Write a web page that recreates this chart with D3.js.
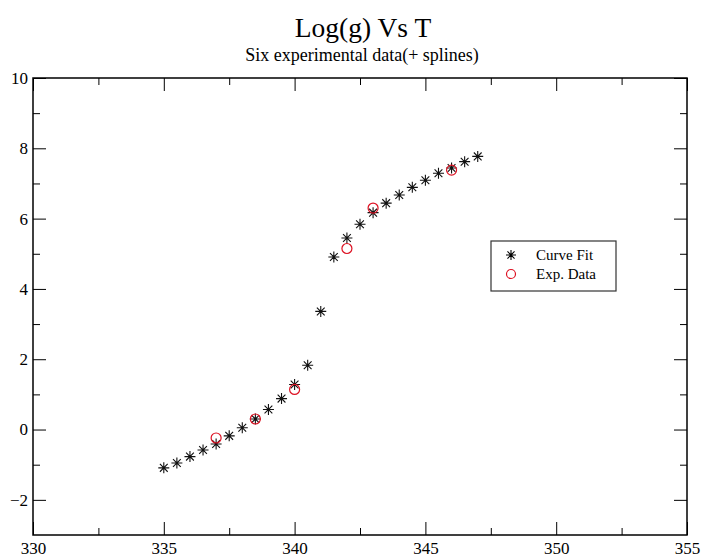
<!DOCTYPE html>
<html><head><meta charset="utf-8">
<script src="https://cdn.jsdelivr.net/npm/d3@7"></script>
<style>body{margin:0;background:#fff}svg{display:block}text{font-family:"Liberation Serif","Times New Roman",serif;fill:#000}</style>
</head><body><svg id="c" width="705" height="559"></svg>
<script>
const fitT = [335,335.5,336,336.5,337,337.5,338,338.5,339,339.5,340,340.5,341,341.5,342,342.5,343,343.5,344,344.5,345,345.5,346,346.5,347];
const fitLogG = [-1.09,-0.95,-0.77,-0.58,-0.41,-0.18,0.05,0.30,0.57,0.88,1.28,1.83,3.36,4.91,5.45,5.84,6.17,6.44,6.67,6.89,7.09,7.29,7.44,7.62,7.77];
const expT = [337,338.5,340,342,343,346];
const expLogG = [-0.24,0.30,1.14,5.15,6.30,7.38];
const xTicks = [330,335,340,345,350,355];
const yTicks = [-2,0,2,4,6,8,10];
const xMinor = [332.5,337.5,342.5,347.5,352.5];
const yMinor = [-1,1,3,5,7,9];
const title = "Log(g) Vs T";
const subtitle = "Six experimental data(+ splines)";
const legendLabels = ["Curve Fit","Exp. Data"];

const svg = d3.select("#c");
const L=33,R=687,T=78,B=535;
const x = d3.scaleLinear().domain([330,355]).range([L,R]);
const y = d3.scaleLinear().domain([-3,10]).range([B,T]);

svg.append("text").attr("x",363).attr("y",37).attr("text-anchor","middle").attr("font-size",27.5).text(title);
svg.append("text").attr("x",362).attr("y",61).attr("text-anchor","middle").attr("font-size",18).text(subtitle);

const g = svg.append("g");
const major=13, minor=7;
function axisStyle(sel){sel.select(".domain").remove();sel.selectAll("line").attr("stroke","#000").attr("stroke-width",1);sel.selectAll("text").attr("font-size",17).attr("font-family","Liberation Serif, serif");}
g.append("g").attr("transform",`translate(0,${B})`).call(d3.axisBottom(x).tickValues(xTicks).tickFormat(d3.format("d")).tickSizeInner(-major).tickSizeOuter(0).tickPadding(6)).call(axisStyle)
 .selectAll("text").attr("dy","0.71em").attr("y",7);
g.append("g").attr("transform",`translate(0,${B})`).call(d3.axisBottom(x).tickValues(xMinor).tickFormat("").tickSizeInner(-minor).tickSizeOuter(0)).call(axisStyle);
g.append("g").attr("transform",`translate(0,${T})`).call(d3.axisTop(x).tickValues(xTicks).tickFormat("").tickSizeInner(-major).tickSizeOuter(0)).call(axisStyle);
g.append("g").attr("transform",`translate(0,${T})`).call(d3.axisTop(x).tickValues(xMinor).tickFormat("").tickSizeInner(-minor).tickSizeOuter(0)).call(axisStyle);
g.append("g").attr("transform",`translate(${L},0)`).call(d3.axisLeft(y).tickValues(yTicks).tickFormat(d3.format("d")).tickSizeInner(-major).tickSizeOuter(0).tickPadding(0)).call(axisStyle)
 .selectAll("text").attr("x",-5);
g.append("g").attr("transform",`translate(${L},0)`).call(d3.axisLeft(y).tickValues(yMinor).tickFormat("").tickSizeInner(-minor).tickSizeOuter(0)).call(axisStyle);
g.append("g").attr("transform",`translate(${R},0)`).call(d3.axisRight(y).tickValues(yTicks).tickFormat("").tickSizeInner(-major).tickSizeOuter(0)).call(axisStyle);
g.append("g").attr("transform",`translate(${R},0)`).call(d3.axisRight(y).tickValues(yMinor).tickFormat("").tickSizeInner(-minor).tickSizeOuter(0)).call(axisStyle);

svg.append("rect").attr("x",L).attr("y",T).attr("width",R-L).attr("height",B-T).attr("fill","none").attr("stroke","#000").attr("stroke-width",1.5);

const starPath = (s)=>{const a=s*0.707;return `M${-s},0L${s},0M0,${-s}L0,${s}M${-a},${-a}L${a},${a}M${-a},${a}L${a},${-a}`;};
const pts = fitT.map((t,i)=>[t,fitLogG[i]]);
svg.append("g").selectAll("path").data(pts).join("path")
 .attr("transform",d=>`translate(${x(d[0])},${y(d[1])})`)
 .attr("d",starPath(5.5)).attr("stroke","#111").attr("stroke-width",1.1).attr("fill","none");
const ex = expT.map((t,i)=>[t,expLogG[i]]);
svg.append("g").selectAll("circle").data(ex).join("circle")
 .attr("cx",d=>x(d[0])).attr("cy",d=>y(d[1])).attr("r",5).attr("fill","none").attr("stroke","#dd1122").attr("stroke-width",1.2);

const lg = svg.append("g");
lg.append("rect").attr("x",491).attr("y",241).attr("width",125).attr("height",50).attr("fill","#fff").attr("stroke","#333").attr("stroke-width",1.2);
lg.append("path").attr("transform","translate(511,255)").attr("d",starPath(5)).attr("stroke","#000").attr("stroke-width",1.1);
lg.append("circle").attr("cx",511).attr("cy",274).attr("r",4.5).attr("fill","none").attr("stroke","#dd1122").attr("stroke-width",1.2);
lg.append("text").attr("x",536).attr("y",260).attr("font-size",15).text(legendLabels[0]);
lg.append("text").attr("x",536).attr("y",279).attr("font-size",15).text(legendLabels[1]);
</script></body></html>
